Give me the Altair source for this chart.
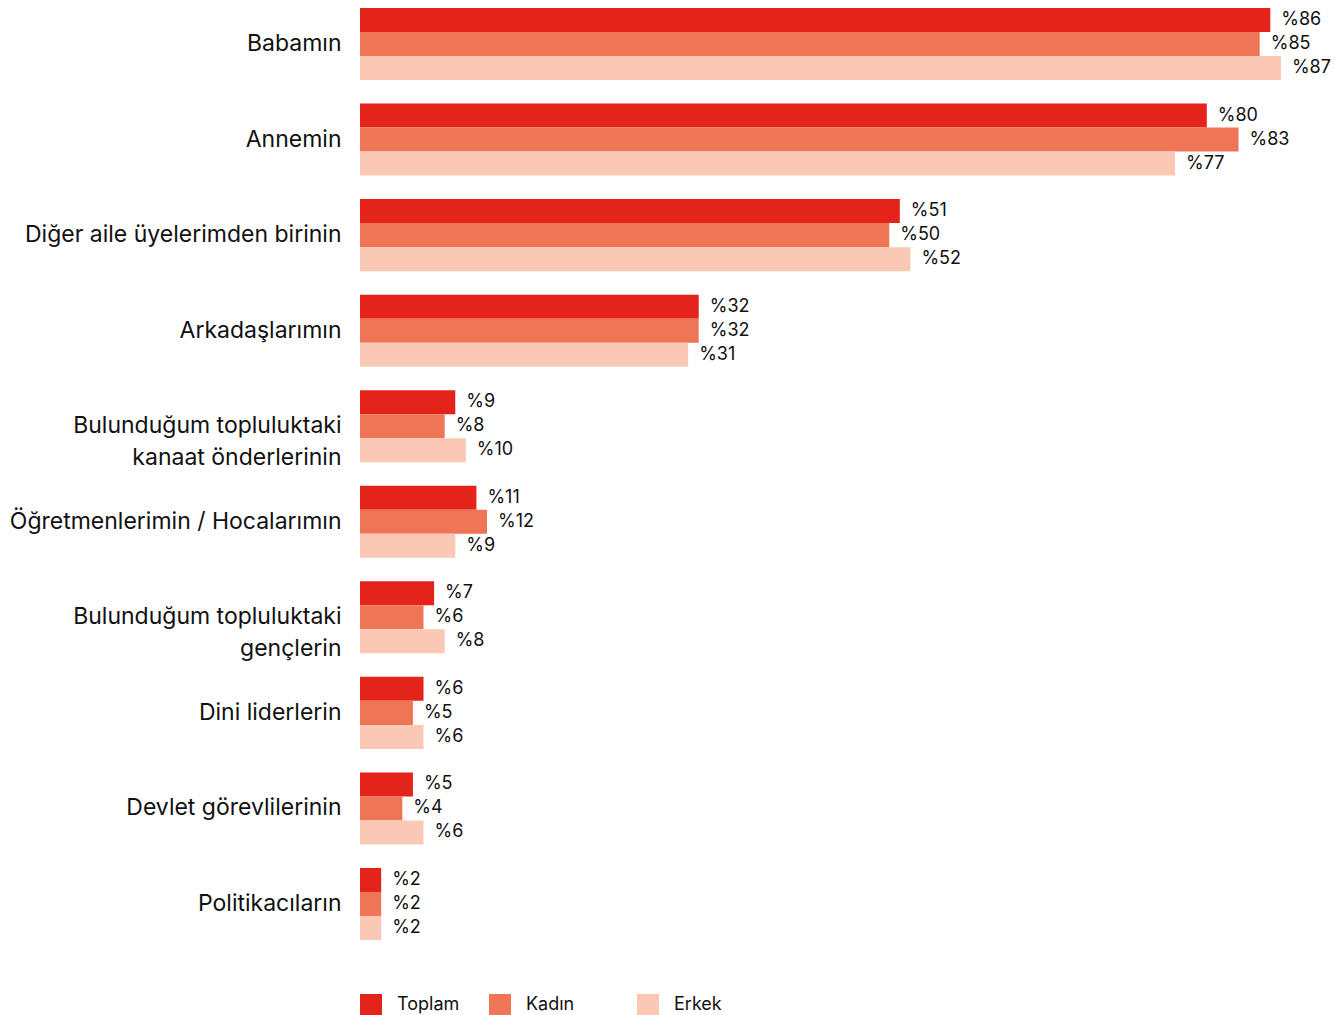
import altair as alt
import pandas as pd

categories = [
    "Babamın",
    "Annemin",
    "Diğer aile üyelerimden birinin",
    "Arkadaşlarımın",
    "Bulunduğum topluluktaki\nkanaat önderlerinin",
    "Öğretmenlerimin / Hocalarımın",
    "Bulunduğum topluluktaki\ngençlerin",
    "Dini liderlerin",
    "Devlet görevlilerinin",
    "Politikacıların",
]
series = ["Toplam", "Kadın", "Erkek"]
toplam = [86, 80, 51, 32, 9, 11, 7, 6, 5, 2]
kadin = [85, 83, 50, 32, 8, 12, 6, 5, 4, 2]
erkek = [87, 77, 52, 31, 10, 9, 8, 6, 6, 2]
colors = ["#E4231B", "#EF7557", "#FAC8B4"]

rows = []
for name, vals in zip(series, [toplam, kadin, erkek]):
    for c, v in zip(categories, vals):
        rows.append({"cat": c, "series": name, "value": v, "label": f"%{v}"})
df = pd.DataFrame(rows)

FONT = "Inter"
PAD = "\u00a0" * 4 + "\u2800"

y = alt.Y(
    "cat:N",
    sort=categories,
    title=None,
    scale=alt.Scale(paddingInner=0.246, paddingOuter=0),
    axis=alt.Axis(
        domain=False,
        ticks=False,
        labelFontSize=23,
        labelFont=FONT,
        labelColor="#111111",
        labelPadding=19,
        labelLimit=600,
        labelLineHeight=32,
        labelExpr="split(datum.label, '\\n')",
    ),
)
yoff = alt.YOffset("series:N", sort=series)
x = alt.X("value:Q", title=None, axis=None, scale=alt.Scale(domain=[0, 91.64], nice=False))

bars = alt.Chart(df).mark_bar().encode(
    y=y,
    yOffset=yoff,
    x=x,
    color=alt.Color(
        "series:N",
        sort=series,
        scale=alt.Scale(domain=series, range=colors),
        legend=alt.Legend(
            title=None,
            orient="none",
            legendX=0,
            legendY=986,
            direction="horizontal",
            symbolType="square",
            symbolSize=484,
            symbolStrokeWidth=0,
            labelFontSize=18,
            labelFont=FONT,
            labelColor="#111111",
            labelOffset=15,
            columnPadding=29,
            labelExpr=f"indexof(datum.label, 'Kad') >= 0 ? datum.label + '{PAD}' : datum.label",
        ),
    ),
)

texts = alt.Chart(df).mark_text(
    align="left", baseline="middle", dx=11, fontSize=18, font=FONT, color="#111111"
).encode(y=y, yOffset=yoff, x=x, text="label:N")

chart = (
    alt.layer(bars, texts)
    .properties(width=970, height=932, padding={"left": 1, "top": 0, "right": 0, "bottom": 0})
    .configure_view(stroke=None)
)

chart.save("out.html", embed_options={"renderer": "svg", "actions": False})
